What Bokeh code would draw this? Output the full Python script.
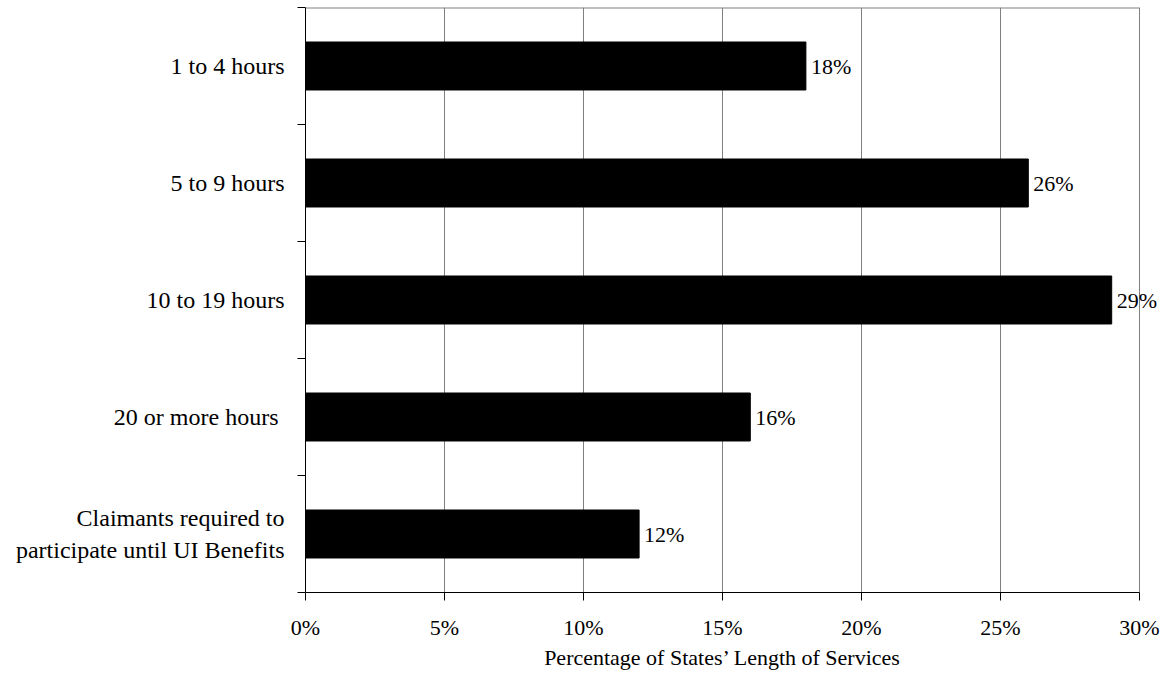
from bokeh.plotting import figure
from bokeh.layouts import column
from bokeh.models import (ColumnDataSource, Range1d, FixedTicker, LinearAxis,
                          PrintfTickFormatter, Div)
from bokeh.core.properties import value
from bokeh.embed import file_html
from bokeh.resources import INLINE

categories = [
    "1 to 4 hours",
    "5 to 9 hours",
    "10 to 19 hours",
    "20 or more hours ",
    "Claimants required to\nparticipate until UI Benefits",
]
percentages = [18, 26, 29, 16, 12]
x_ticks = [0, 5, 10, 15, 20, 25, 30]
x_title = "Percentage of States\u2019 Length of Services"

FONT = "Liberation Serif"
FSIZE = "22px"

WIDTH, HEIGHT = 1166, 684
LEFT, TOP, BOTTOM = 305, 7, 54
TITLE_H = 38
AXIS_PX = 834  # pixel length of the 0-30% scale

x_lo, x_hi = x_ticks[0], x_ticks[-1]
# the frame runs on past 30% so value labels near the end stay visible
x_end = x_hi * (WIDTH - LEFT) / AXIS_PX

# categories are laid out top to bottom, one unit band each
centers = [i + 0.5 for i in range(len(categories))]
source = ColumnDataSource(dict(
    y=centers,
    pct=percentages,
    label=[f"{v}%" for v in percentages],
))

p = figure(
    width=WIDTH, height=HEIGHT - TITLE_H,
    x_range=Range1d(x_lo, x_end), y_range=Range1d(len(categories), 0),
    output_backend="svg", toolbar_location=None,
    x_axis_location=None, y_axis_location=None,
    min_border_left=LEFT, min_border_right=0,
    min_border_top=TOP, min_border_bottom=BOTTOM,
)
p.background_fill_color = "white"
p.border_fill_color = "white"
p.outline_line_color = None

# top edge of the plot box
p.segment(x0=[x_lo], x1=[x_hi], y0=[0], y1=[0],
          line_color="#808080", line_width=2)

p.hbar(y="y", right="pct", left=0, height=0.41, source=source,
       fill_color="black", line_color="black")

p.text(x="pct", y="y", text="label", source=source, x_offset=5,
       text_align="left", text_baseline="middle",
       text_font=value(FONT), text_font_size=FSIZE, text_color="black")

# x axis: percentage ticks along the bottom
xaxis = LinearAxis(
    ticker=FixedTicker(ticks=x_ticks, minor_ticks=[]),
    formatter=PrintfTickFormatter(format="%d%%"),
    bounds=(x_lo, x_hi),
)
xaxis.axis_line_color = "black"
xaxis.major_tick_line_color = "black"
xaxis.major_tick_in = 0
xaxis.major_tick_out = 8
xaxis.minor_tick_line_color = None
xaxis.major_label_standoff = 14
xaxis.major_label_text_font = FONT
xaxis.major_label_text_font_size = FSIZE
xaxis.major_label_text_color = "black"
p.add_layout(xaxis, "below")

# y axis: labels at band centres, tick marks at band boundaries
yaxis = LinearAxis(
    ticker=FixedTicker(ticks=centers,
                       minor_ticks=list(range(len(categories) + 1))),
    major_label_overrides={c: lab for c, lab in zip(centers, categories)},
)
yaxis.axis_line_color = "black"
yaxis.major_tick_line_color = None
yaxis.major_tick_in = 0
yaxis.major_tick_out = 0
yaxis.minor_tick_line_color = "black"
yaxis.minor_tick_in = 0
yaxis.minor_tick_out = 8
yaxis.major_label_standoff = 13
yaxis.major_label_text_font = FONT
yaxis.major_label_text_font_size = "24px"
yaxis.major_label_text_color = "black"
yaxis.major_label_text_align = "center"
p.add_layout(yaxis, "left")

p.xgrid.ticker = FixedTicker(ticks=x_ticks)
p.xgrid.grid_line_color = "#808080"
p.xgrid.grid_line_width = 1
p.ygrid.grid_line_color = None

# axis title, centred under the 0-30% scale
title = Div(
    text=x_title, width=AXIS_PX, height=TITLE_H,
    margin=(0, 0, 0, LEFT),
    styles={"font-family": FONT, "font-size": FSIZE, "color": "black",
            "text-align": "center", "width": f"{AXIS_PX}px",
            "line-height": "24px", "white-space": "nowrap"},
)

layout = column(p, title, spacing=0)
open("out.html", "w").write(file_html(layout, INLINE))
